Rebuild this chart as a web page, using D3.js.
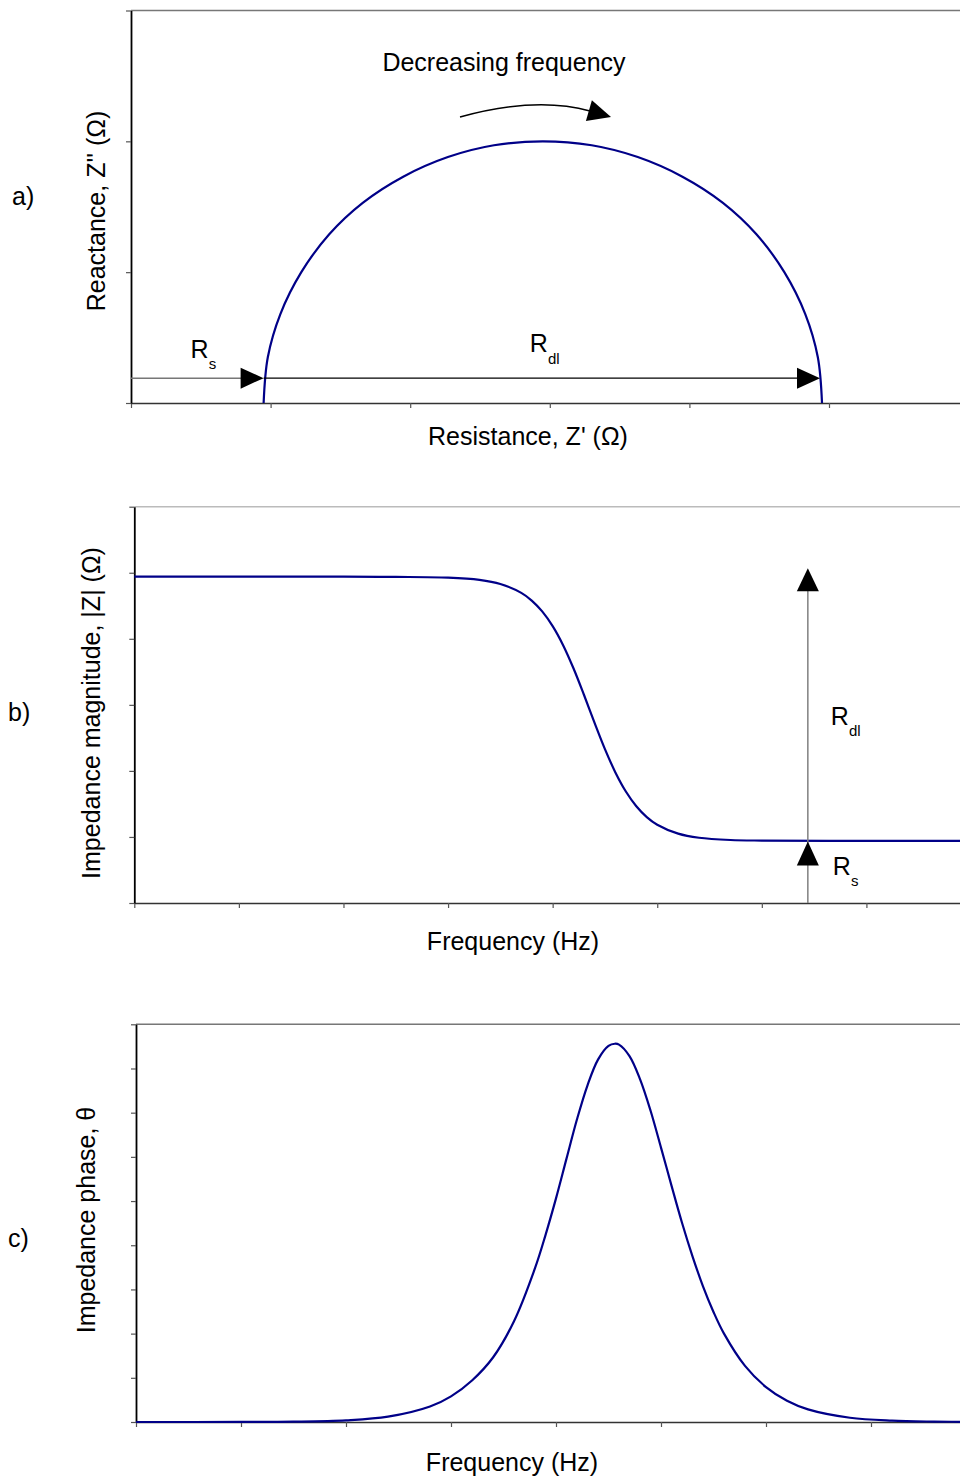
<!DOCTYPE html>
<html><head><meta charset="utf-8">
<script src="https://cdn.jsdelivr.net/npm/d3@7"></script>
<style>
body{margin:0;background:#fff}
svg{display:block}
text{font-family:"Liberation Sans",Arial,sans-serif;fill:#000}
</style>
</head><body>
<svg id="chart" width="960" height="1483"></svg>
<script>
// ---------- data ----------
// a) Nyquist plot: resistance Z' and reactance Z'' (arbitrary units)
const nyquistRe = [0.95, 0.98, 1.07, 1.22, 1.42, 1.66, 1.95, 2.27, 2.60, 2.95, 3.30, 3.63, 3.95, 4.24, 4.48, 4.68, 4.83, 4.92, 4.95];
const nyquistIm = [0.00, 0.35, 0.68, 1.00, 1.29, 1.53, 1.73, 1.88, 1.97, 2.00, 1.97, 1.88, 1.73, 1.53, 1.29, 1.00, 0.68, 0.35, 0.00];
// b) impedance magnitude vs log frequency (decades)
const magFreq   = [0.0, 1.0, 2.0, 2.5, 3.0, 3.3, 3.5, 3.7, 3.8, 3.9, 4.0, 4.1, 4.2, 4.3, 4.4, 4.5, 4.6, 4.7, 4.8, 4.9, 5.0, 5.2, 5.4, 5.7, 6.0, 7.0, 8.0];
const magValues = [4.94, 4.94, 4.94, 4.937, 4.926, 4.892, 4.83, 4.695, 4.579, 4.415, 4.192, 3.904, 3.55, 3.149, 2.731, 2.33, 1.977, 1.688, 1.465, 1.301, 1.185, 1.05, 0.988, 0.954, 0.945, 0.94, 0.94];
// c) impedance phase (degrees) vs log frequency (decades)
const phaseFreq   = [0.0, 1.0, 1.5, 2.0, 2.4, 2.8, 3.0, 3.2, 3.4, 3.6, 3.8, 3.9, 4.0, 4.1, 4.2, 4.3, 4.4, 4.5, 4.56, 4.6, 4.7, 4.8, 4.9, 5.0, 5.1, 5.2, 5.3, 5.4, 5.5, 5.6, 5.8, 6.0, 6.2, 6.4, 6.8, 7.2, 7.6, 8.0];
const phaseValues = [0.0, 0.02, 0.08, 0.38, 1.2, 3.5, 5.8, 9.4, 14.6, 22.8, 34.8, 42.3, 50.6, 59.6, 68.5, 76.2, 82.0, 85.1, 85.6, 85.4, 82.8, 77.6, 70.5, 62.1, 53.5, 45.1, 37.5, 30.7, 24.9, 20.0, 12.7, 7.9, 4.8, 2.85, 0.96, 0.30, 0.09, 0.02];
// annotation values
const rsValue = 0.95;
const rdlValue = 4.0;
const arrowLevelA = 0.19;       // height of the Rs/Rdl arrows in panel a
const arrowFreqB = 6.44;        // frequency where the arrows sit in panel b
// tick values
const ticksAx = [0, 1, 2, 3, 4, 5, 6];
const ticksAy = [0, 1, 2, 3];
const ticksBx = [0, 1, 2, 3, 4, 5, 6, 7, 8];
const ticksBy = [0, 1, 2, 3, 4, 5, 6];
const ticksCx = [0, 1, 2, 3, 4, 5, 6, 7, 8];
const ticksCy = [0, 10, 20, 30, 40, 50, 60, 70, 80, 90];

// ---------- drawing ----------
const svg = d3.select("#chart");
const CURVE = "#000088";
const FS = 25;
const smooth = d3.curveCatmullRom.alpha(0.5);

function frame(x, y, xt, yt, topColor) {
  const [x0] = x.range(), [yb, yt0] = y.range();
  svg.append("line").attr("x1", x0).attr("x2", 960).attr("y1", yt0).attr("y2", yt0)
    .attr("stroke", topColor).attr("stroke-width", 1.5);
  const ax = svg.append("g").attr("transform", `translate(0,${yb})`)
    .call(d3.axisBottom(x).tickValues(xt).tickSize(5).tickSizeOuter(0).tickFormat(""));
  ax.select(".domain").attr("stroke", "#333").attr("stroke-width", 1.5);
  ax.selectAll(".tick line").attr("stroke", "#555").attr("stroke-width", 1.2);
  const ay = svg.append("g").attr("transform", `translate(${x0},0)`)
    .call(d3.axisLeft(y).tickValues(yt).tickSize(5).tickSizeOuter(0).tickFormat(""));
  ay.select(".domain").attr("stroke", "#000").attr("stroke-width", 1.8);
  ay.selectAll(".tick line").attr("stroke", "#555").attr("stroke-width", 1.2);
}

function tri(tip, dir, len, half) {
  const [dx, dy] = dir;
  const bx = tip[0] - dx * len, by = tip[1] - dy * len;
  const nx = -dy, ny = dx;
  return `M${tip[0]},${tip[1]}L${bx + nx * half},${by + ny * half}L${bx - nx * half},${by - ny * half}Z`;
}

function label(x, y, main, sub, subDy) {
  const t = svg.append("text").attr("x", x).attr("y", y).attr("font-size", FS).text(main);
  t.append("tspan").attr("dy", subDy).attr("font-size", 15).text(sub);
}

function ylab(x, y, txt) {
  svg.append("text").attr("transform", `translate(${x},${y}) rotate(-90)`)
    .attr("text-anchor", "middle").attr("font-size", FS).text(txt);
}
function xlab(x, y, txt) {
  svg.append("text").attr("x", x).attr("y", y).attr("text-anchor", "middle").attr("font-size", FS).text(txt);
}

// ---- Panel a ----
{
  const x = d3.scaleLinear([0, 6], [131, 968.6]);
  const y = d3.scaleLinear([0, 3], [403, 10.5]);
  frame(x, y, ticksAx, ticksAy, "#777");
  const pts = nyquistRe.map((v, i) => [v, nyquistIm[i]]);
  svg.append("path").datum(pts)
    .attr("d", d3.line().x(d => x(d[0])).y(d => y(d[1])).curve(smooth))
    .attr("fill", "none").attr("stroke", CURVE).attr("stroke-width", 2.2);
  const ay = y(arrowLevelA);
  svg.append("line").attr("x1", x(0)).attr("x2", x(rsValue) - 20).attr("y1", ay).attr("y2", ay)
    .attr("stroke", "#777").attr("stroke-width", 1.5);
  svg.append("path").attr("d", tri([x(rsValue), ay], [1, 0], 23, 10.5)).attr("fill", "#000");
  const tipR = x(rsValue + rdlValue) - 2;
  svg.append("line").attr("x1", x(rsValue)).attr("x2", tipR - 20).attr("y1", ay).attr("y2", ay)
    .attr("stroke", "#000").attr("stroke-width", 1.3);
  svg.append("path").attr("d", tri([tipR, ay], [1, 0], 23, 10.5)).attr("fill", "#000");
  label(x(rsValue) - 73, ay - 20, "R", "s", 11);
  label(x(rsValue + rdlValue / 2) - 13, ay - 26, "R", "dl", 12);
  svg.append("path").attr("d", "M460,117Q536,96 590,111").attr("fill", "none")
    .attr("stroke", "#000").attr("stroke-width", 1.4);
  const ang = Math.atan2(6.5, 22.5);
  svg.append("path").attr("d", tri([611, 117], [Math.cos(ang), Math.sin(ang)], 23, 10.8)).attr("fill", "#000");
  svg.append("text").attr("x", 504).attr("y", 71).attr("text-anchor", "middle").attr("font-size", FS).text("Decreasing frequency");
  ylab(105, 211, "Reactance, Z'' (\u03A9)");
  xlab(528, 445, "Resistance, Z' (\u03A9)");
  svg.append("text").attr("x", 12).attr("y", 205).attr("font-size", FS).text("a)");
}

// ---- Panel b ----
{
  const x = d3.scaleLinear([0, 8], [134.3, 971]);
  const y = d3.scaleLinear([0, 6], [903, 506.7]);
  frame(x, y, ticksBx, ticksBy, "#bbb");
  const pts = magFreq.map((v, i) => [v, magValues[i]]);
  svg.append("path").datum(pts)
    .attr("d", d3.line().x(d => x(d[0])).y(d => y(d[1])).curve(smooth))
    .attr("fill", "none").attr("stroke", CURVE).attr("stroke-width", 2.2);
  const ax = x(arrowFreqB);
  svg.append("line").attr("x1", ax).attr("x2", ax).attr("y1", y(0)).attr("y2", y(rsValue + rdlValue + 0.1) + 20)
    .attr("stroke", "#808080").attr("stroke-width", 1.5);
  svg.append("path").attr("d", tri([ax, y(rsValue + rdlValue + 0.12)], [0, -1], 23, 11)).attr("fill", "#000");
  svg.append("path").attr("d", tri([ax, y(rsValue - 0.02)], [0, -1], 24, 11)).attr("fill", "#000");
  label(ax + 23, 725, "R", "dl", 11);
  label(ax + 25, 875, "R", "s", 11);
  ylab(100, 713, "Impedance magnitude, |Z| (\u03A9)");
  xlab(513, 950, "Frequency (Hz)");
  svg.append("text").attr("x", 8).attr("y", 721).attr("font-size", FS).text("b)");
}

// ---- Panel c ----
{
  const x = d3.scaleLinear([0, 8], [136, 976]);
  const y = d3.scaleLinear([0, 90], [1422, 1024.3]);
  frame(x, y, ticksCx, ticksCy, "#777");
  const pts = phaseFreq.map((v, i) => [v, phaseValues[i]]);
  svg.append("path").datum(pts)
    .attr("d", d3.line().x(d => x(d[0])).y(d => y(d[1])).curve(smooth))
    .attr("fill", "none").attr("stroke", CURVE).attr("stroke-width", 2.2);
  ylab(95, 1220, "Impedance phase, \u03B8");
  xlab(512, 1471, "Frequency (Hz)");
  svg.append("text").attr("x", 8).attr("y", 1247).attr("font-size", FS).text("c)");
}
</script>
</body></html>
